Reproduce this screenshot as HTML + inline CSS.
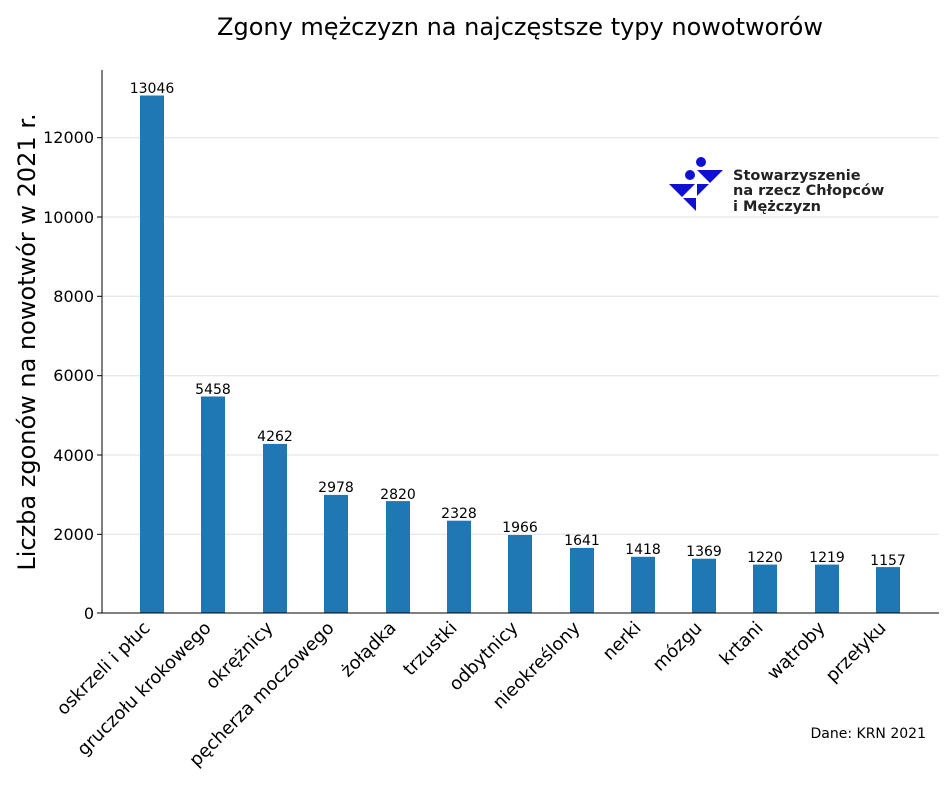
<!DOCTYPE html><html><head><meta charset="utf-8"><style>body{margin:0;background:#fff}svg{display:block;font-family:"DejaVu Sans","Liberation Sans",sans-serif}</style></head><body>
<svg width="952" height="786" xmlns="http://www.w3.org/2000/svg">
<text x="520" y="35" font-size="24" text-anchor="middle">Zgony mężczyzn na najczęstsze typy nowotworów</text>
<g stroke="#e0e0e0" stroke-width="1">
<line x1="102" x2="939" y1="534.3" y2="534.3"/><line x1="102" x2="939" y1="455" y2="455"/><line x1="102" x2="939" y1="375.7" y2="375.7"/><line x1="102" x2="939" y1="296.3" y2="296.3"/><line x1="102" x2="939" y1="217" y2="217"/><line x1="102" x2="939" y1="137.7" y2="137.7"/>
</g>
<g fill="#1f77b4">
<rect x="140" y="95.5" width="24" height="517.5"/>
<rect x="201" y="396.5" width="24" height="216.5"/>
<rect x="263" y="443.9" width="24" height="169.1"/>
<rect x="324" y="494.9" width="24" height="118.1"/>
<rect x="386" y="501.1" width="24" height="111.9"/>
<rect x="447" y="520.7" width="24" height="92.3"/>
<rect x="508" y="535" width="24" height="78"/>
<rect x="570" y="547.9" width="24" height="65.1"/>
<rect x="631" y="556.8" width="24" height="56.2"/>
<rect x="692" y="558.7" width="24" height="54.3"/>
<rect x="753" y="564.6" width="24" height="48.4"/>
<rect x="815" y="564.6" width="24" height="48.4"/>
<rect x="876" y="567.1" width="24" height="45.9"/>
</g>
<g font-size="14" text-anchor="middle">
<text x="152" y="93">13046</text><text x="213" y="394">5458</text><text x="275" y="441">4262</text><text x="336" y="492">2978</text><text x="398" y="499">2820</text><text x="459" y="518">2328</text><text x="520" y="532">1966</text><text x="582" y="545">1641</text><text x="643" y="554">1418</text><text x="704" y="556">1369</text><text x="765" y="562">1220</text><text x="827" y="562">1219</text><text x="888" y="565">1157</text>
</g>
<line x1="102" x2="102" y1="70" y2="613" stroke="#000"/>
<line x1="102" x2="939" y1="613" y2="613" stroke="#000"/>
<g stroke="#000"><line x1="97" x2="102" y1="613" y2="613"/><line x1="97" x2="102" y1="534.3" y2="534.3"/><line x1="97" x2="102" y1="455" y2="455"/><line x1="97" x2="102" y1="375.7" y2="375.7"/><line x1="97" x2="102" y1="296.3" y2="296.3"/><line x1="97" x2="102" y1="217" y2="217"/><line x1="97" x2="102" y1="137.7" y2="137.7"/></g>
<g font-size="16" text-anchor="end">
<text x="94" y="619">0</text><text x="94" y="540">2000</text><text x="94" y="461">4000</text><text x="94" y="381">6000</text><text x="94" y="302">8000</text><text x="94" y="223">10000</text><text x="94" y="143">12000</text>
</g>
<text transform="translate(35,342) rotate(-90)" font-size="24" text-anchor="middle">Liczba zgonów na nowotwór w 2021 r.</text>
<g font-size="18" text-anchor="end">
<text transform="translate(151,629) rotate(-45)">oskrzeli i płuc</text>
<text transform="translate(212,629) rotate(-45)">gruczołu krokowego</text>
<text transform="translate(274,629) rotate(-45)">okrężnicy</text>
<text transform="translate(335,629) rotate(-45)">pęcherza moczowego</text>
<text transform="translate(397,629) rotate(-45)">żołądka</text>
<text transform="translate(458,629) rotate(-45)">trzustki</text>
<text transform="translate(519,629) rotate(-45)">odbytnicy</text>
<text transform="translate(581,629) rotate(-45)">nieokreślony</text>
<text transform="translate(642,629) rotate(-45)">nerki</text>
<text transform="translate(703,629) rotate(-45)">mózgu</text>
<text transform="translate(764,629) rotate(-45)">krtani</text>
<text transform="translate(826,629) rotate(-45)">wątroby</text>
<text transform="translate(887,629) rotate(-45)">przełyku</text>
</g>
<text x="926" y="738" font-size="14" text-anchor="end">Dane: KRN 2021</text>
<g fill="#1010d0">
<circle cx="701" cy="162" r="5"/><circle cx="690" cy="175" r="5"/>
<polygon points="697,170 723,170 710,183"/>
<polygon points="669,184 695,184 682,197"/>
<polygon points="697,184 709,184 697,196"/>
<polygon points="683,198 696,198 696,211"/>
</g>
<g font-size="14.5" font-weight="bold" fill="#222">
<text x="733" y="180">Stowarzyszenie</text><text x="733" y="195">na rzecz Chłopców</text><text x="733" y="211">i Mężczyzn</text>
</g>
</svg></body></html>
